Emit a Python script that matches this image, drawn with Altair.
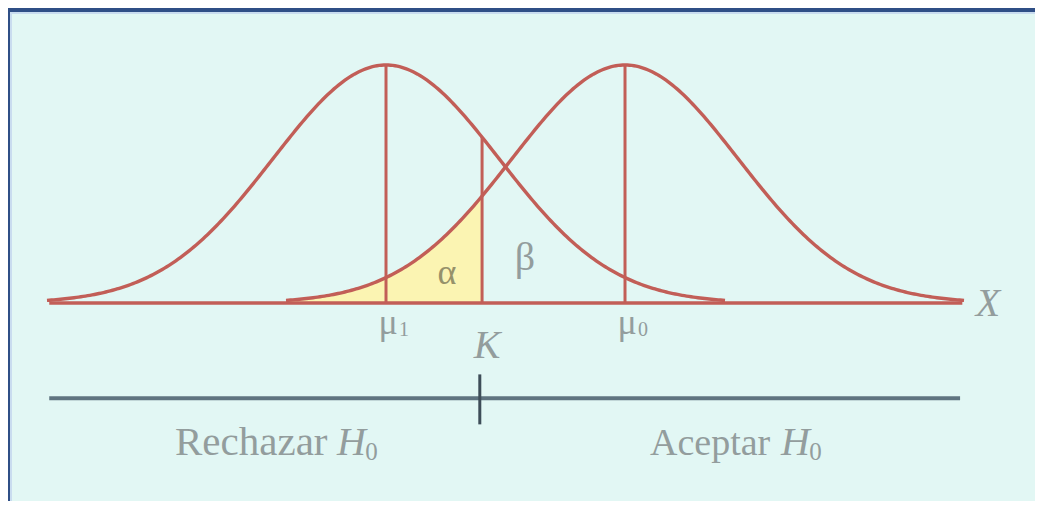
import altair as alt
import numpy as np
import pandas as pd

# ---- values (x in units of sigma, mu1 at 0) ----
MU1 = [0.0]          # mean under H1 (left curve)
MU0 = [2.115]        # mean under H0 (right curve)
SIGMA = [1.0]
K_VAL = [0.85]       # critical value K
SPAN = [3.0]         # curves drawn over +-3 sigma
AXIS_END = [5.10]    # right end of X axis line
AXIS_START = [-2.98]
DECISION_Y = [-0.40]   # decision line level
TICK_Y = [-0.30, -0.51]

W, H = 1027, 493
xs = alt.Scale(domain=[-3.345, 5.743], nice=False, zero=False)
ys = alt.Scale(domain=[-0.832, 1.2395], nice=False, zero=False)

CURVE = "#c25e57"
SERIF = "Liberation Serif"

def dens(x, mu, s):
    return np.exp(-((x - mu) / s) ** 2 / 2)

rows = []
for name, mu in [("H1", MU1[0]), ("H0", MU0[0])]:
    xx = np.linspace(mu - SPAN[0] * SIGMA[0], mu + SPAN[0] * SIGMA[0], 301)
    for v in xx:
        rows.append({"curve": name, "x": v, "h": dens(v, mu, SIGMA[0])})
curves = pd.DataFrame(rows)

xa = np.linspace(MU0[0] - SPAN[0] * SIGMA[0], K_VAL[0], 200)
alpha_df = pd.DataFrame({"x": xa, "h": dens(xa, MU0[0], SIGMA[0]), "b": 0.0})

X = lambda f: alt.X(f, type="quantitative", scale=xs, axis=None)
Y = lambda f: alt.Y(f, type="quantitative", scale=ys, axis=None)

base = alt.Chart(curves)

area = alt.Chart(alpha_df).mark_area(color="#fbf4b2", opacity=1).encode(
    x=X("x"), y=Y("h"), y2="b:Q")

lines = base.mark_line(color=CURVE, strokeWidth=3.4).encode(
    x=X("x"), y=Y("h"), detail="curve:N")

vrules = pd.DataFrame({
    "x": [MU1[0], MU0[0], K_VAL[0]],
    "y": [0.0, 0.0, 0.0],
    "y2": [1.0, 1.0, float(dens(K_VAL[0], MU1[0], SIGMA[0]))],
})
vr = alt.Chart(vrules).mark_rule(color=CURVE, strokeWidth=3).encode(
    x=X("x"), y=Y("y"), y2="y2:Q")

axis_df = pd.DataFrame({"x": [AXIS_START[0]], "x2": [AXIS_END[0]], "y": [0.0]})
axis_line = alt.Chart(axis_df).mark_rule(color=CURVE, strokeWidth=3.5).encode(
    x=X("x"), x2="x2:Q", y=Y("y"))

dec_df = pd.DataFrame({"x": [-2.98], "x2": [5.08], "y": [DECISION_Y[0]]})
dec_line = alt.Chart(dec_df).mark_rule(color="#5f7480", strokeWidth=4).encode(
    x=X("x"), x2="x2:Q", y=Y("y"))

tick_df = pd.DataFrame({"x": [K_VAL[0] - 0.02], "y": [TICK_Y[0]], "y2": [TICK_Y[1]]})
tick = alt.Chart(tick_df).mark_rule(color="#3e4d58", strokeWidth=3).encode(
    x=X("x"), y=Y("y"), y2="y2:Q")

def label(txt, x, y, size, color="#939d9d", italic=False, align="center",
          baseline="middle", dy=0):
    df = pd.DataFrame({"x": [x], "y": [y], "t": [txt]})
    return alt.Chart(df).mark_text(
        font=SERIF, fontSize=size, color=color, align=align, baseline=baseline,
        fontStyle="italic" if italic else "normal", dy=dy
    ).encode(x=X("x"), y=Y("y"), text="t:N")

texts = [
    label("μ", MU1[0] + 0.02, -0.085, 36),
    label("1", MU1[0] + 0.16, -0.115, 20),
    label("μ", MU0[0] + 0.02, -0.085, 36),
    label("0", MU0[0] + 0.16, -0.115, 20),
    label("K", 0.894, -0.181, 40, italic=True),
    label("α", 0.54, 0.126, 36, color="#96916a"),
    label("β", 1.23, 0.189, 40),
    label("X", 5.327, -0.004, 40, italic=True),
    label("Rechazar", -1.867, -0.639, 41, align="left", baseline="alphabetic"),
    label("H", -0.434, -0.639, 40, italic=True, align="left", baseline="alphabetic"),
    label("0", -0.434 + 0.25, -0.639, 25, align="left", baseline="alphabetic", dy=5),
    label("Aceptar", 2.336, -0.639, 38, align="left", baseline="alphabetic"),
    label("H", 3.496, -0.639, 40, italic=True, align="left", baseline="alphabetic"),
    label("0", 3.496 + 0.25, -0.639, 25, align="left", baseline="alphabetic", dy=5),
]

frame_df = pd.DataFrame({"a": [0]})
top_border = alt.Chart(frame_df).mark_rect(color="#2f4f86").encode(
    x=alt.value(0), x2=alt.value(W), y=alt.value(0), y2=alt.value(4))
top_light = alt.Chart(frame_df).mark_rect(color="#c9dcef").encode(
    x=alt.value(2), x2=alt.value(W), y=alt.value(4), y2=alt.value(6))
left_border = alt.Chart(frame_df).mark_rect(color="#2f4f86").encode(
    x=alt.value(0), x2=alt.value(2), y=alt.value(0), y2=alt.value(H))
left_light = alt.Chart(frame_df).mark_rect(color="#c9dcef").encode(
    x=alt.value(2), x2=alt.value(4), y=alt.value(4), y2=alt.value(H))

chart = alt.layer(
    area, lines, vr, axis_line, dec_line, tick, *texts,
    top_border, top_light, left_border, left_light
).properties(
    width=W, height=H, padding=0,
    autosize=alt.AutoSizeParams(type="none"),
    background="#e2f7f4",
).configure_view(stroke=None, fill="#e2f7f4")

chart.save("out.html", embed_options={"renderer": "svg", "actions": False})
